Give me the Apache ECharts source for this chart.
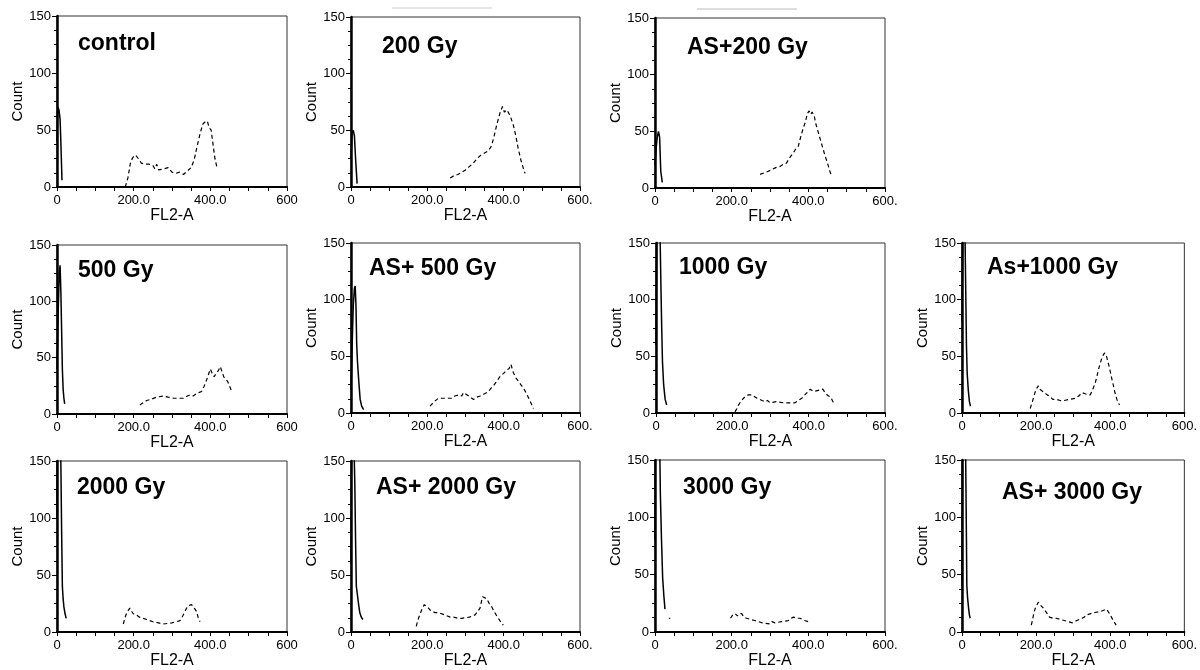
<!DOCTYPE html>
<html>
<head>
    <meta charset="utf-8">
    <title>FL2-A histograms</title>
    <script src="https://cdn.jsdelivr.net/npm/echarts@6/dist/echarts.min.js"></script>
    <style>
        html, body { margin: 0; padding: 0; background: #fff; }
        #chart { width: 1200px; height: 670px; }
    </style>
</head>
<body>
<div id="chart"></div>
<script type="text/javascript">
    // panel names
    var panelNames = ['control', '200 Gy', 'AS+200 Gy', '500 Gy', 'AS+ 500 Gy', '1000 Gy', 'As+1000 Gy',
        '2000 Gy', 'AS+ 2000 Gy', '3000 Gy', 'AS+ 3000 Gy'];

    // axis ticks
    var xTicks = [0, 200, 400, 600];
    var xTickText = ['0', '200.0', '400.0', '600.'];
    var xTickTextFirstCol = ['0', '200.0', '400.0', '600'];
    var yTicks = [0, 50, 100, 150];

    // solid peak near zero, [FL2-A, count]
    var controlPeak = [[0,40],[2,70],[5,68],[8,60],[10,40],[13,6]];
    var gy200Peak = [[0,25],[3,48],[6,50],[9,45],[12,25],[16,3]];
    var as200Peak = [[0,20],[3,35],[6,45],[9,50],[12,45],[15,15],[19,5]];
    var gy500Peak = [[0,40],[3,90],[6,125],[8,132],[10,110],[12,75],[14,40],[16,22],[18,14],[20,9]];
    var as500Peak = [[0,20],[3,60],[6,95],[9,110],[11,112],[13,95],[15,60],[17,45],[19,35],[21,25],[24,12],[28,6],[33,3]];
    var gy1000Peak = [[0,60],[3,200],[6,300],[9,200],[11,150],[13,110],[15,75],[17,45],[20,25],[24,12],[28,7]];
    var as1000Peak = [[0,80],[3,200],[6,250],[8,160],[10,110],[12,60],[14,35],[17,20],[20,10],[23,6]];
    var gy2000Peak = [[0,100],[2,300],[5,350],[8,200],[10,150],[12,90],[14,40],[16,29],[18,22],[21,16],[24,12]];
    var as2000Peak = [[0,60],[2,200],[5,300],[8,160],[10,130],[12,80],[14,40],[17,32],[20,24],[23,17],[27,13],[31,11]];
    var gy3000Peak = [[0,80],[2,250],[5,350],[9,250],[12,170],[14,120],[17,80],[20,47],[23,32],[26,20]];
    var as3000Peak = [[0,40],[2,200],[5,300],[8,200],[10,150],[12,80],[13,41],[15,30],[18,20],[20,15],[22,12]];

    // dashed cell cycle part
    var controlCycle = [[178,0],[185,8],[192,22],[198,26],[205,28],[212,25],[220,21],[230,20],[240,20],[250,19],[255,16],[260,20],[265,15],[280,16],[290,17],[300,13],[310,12],[320,13],[330,11],[340,14],[350,17],[358,24],[365,35],[372,45],[380,55],[386,57],[392,58],[397,52],[402,50],[408,35],[412,25],[418,16]];
    var gy200Cycle = [[260,8],[270,10],[280,11],[290,13],[300,15],[310,18],[320,21],[330,25],[340,28],[350,30],[360,32],[368,36],[375,45],[382,55],[390,65],[397,71],[402,66],[407,68],[412,66],[418,62],[425,55],[432,45],[438,34],[445,24],[452,16],[456,12]];
    var as200Cycle = [[274,12],[290,14],[304,16],[315,18],[326,19],[335,21],[343,22],[352,27],[361,31],[368,35],[374,37],[380,45],[386,52],[392,58],[398,66],[402,68],[406,65],[410,67],[415,64],[420,56],[426,49],[432,42],[438,35],[444,28],[450,22],[456,15],[461,10]];
    var gy500Cycle = [[216,8],[225,10],[234,12],[245,13],[260,15],[277,16],[290,15],[305,14],[320,14],[330,14],[340,16],[347,17],[355,16],[364,18],[370,19],[377,20],[383,24],[390,30],[396,36],[400,40],[405,36],[410,33],[415,36],[420,38],[426,42],[430,38],[435,33],[440,31],[445,29],[450,25],[456,20]];
    var as500Cycle = [[207,6],[218,10],[229,13],[245,13],[264,13],[272,15],[282,16],[290,15],[295,18],[308,15],[321,12],[330,14],[338,15],[350,17],[360,19],[367,22],[373,24],[382,28],[390,32],[400,35],[408,38],[414,39],[419,43],[425,36],[432,31],[439,28],[445,25],[452,22],[460,17],[470,10],[478,4]];
    var gy1000Cycle = [[207,1],[212,4],[216,7],[222,10],[229,13],[236,15],[242,16],[251,16],[265,13],[278,11],[286,10],[292,11],[299,9],[315,10],[334,9],[350,9],[364,9],[373,11],[382,13],[390,16],[399,19],[404,21],[408,20],[413,19],[417,18],[425,20],[437,21],[445,17],[452,15],[458,14],[465,9]];
    var as1000Cycle = [[184,4],[190,10],[197,18],[202,22],[206,24],[210,21],[215,22],[222,18],[230,16],[236,15],[245,12],[255,12],[265,11],[276,11],[290,12],[306,13],[315,15],[324,18],[332,17],[340,16],[346,16],[352,20],[359,26],[364,32],[368,38],[373,44],[377,48],[381,51],[385,53],[390,50],[394,45],[398,40],[403,32],[408,25],[412,19],[418,12],[425,7]];
    var gy2000Cycle = [[173,7],[177,12],[181,16],[186,19],[190,21],[195,18],[199,16],[203,15],[207,15],[215,13],[225,12],[234,11],[250,9],[265,8],[277,7],[300,8],[321,10],[328,14],[334,18],[338,21],[342,23],[346,24],[351,24],[356,22],[360,20],[364,18],[368,13],[373,9]];
    var as2000Cycle = [[171,5],[175,10],[180,15],[186,20],[192,24],[197,23],[203,21],[208,19],[212,18],[220,17],[229,17],[245,15],[260,13],[269,13],[280,12],[290,12],[310,13],[325,15],[332,18],[338,21],[342,27],[345,31],[350,30],[356,29],[362,25],[369,22],[375,18],[382,14],[390,10],[399,6]];
    var gy3000Cycle = [[36,12],[40,12],null,[197,12],[203,15],[209,16],[215,14],[220,16],[226,16],[232,13],[239,12],[260,10],[280,8],[300,7],[305,9],[309,9],[313,8],[317,7],[330,9],[348,10],[355,12],[361,13],[370,12],[378,12],[390,10],[400,9]];
    var as3000Cycle = [[187,6],[190,10],[193,15],[197,20],[201,23],[206,26],[210,24],[215,23],[219,21],[223,20],[230,16],[236,13],[245,12],[254,12],[265,11],[276,10],[287,9],[298,8],[310,10],[324,12],[330,13],[337,15],[348,16],[359,17],[375,18],[390,20],[400,15],[408,10],[416,6]];

    var peaks = [controlPeak, gy200Peak, as200Peak, gy500Peak, as500Peak, gy1000Peak, as1000Peak,
        gy2000Peak, as2000Peak, gy3000Peak, as3000Peak];
    var cycles = [controlCycle, gy200Cycle, as200Cycle, gy500Cycle, as500Cycle, gy1000Cycle, as1000Cycle,
        gy2000Cycle, as2000Cycle, gy3000Cycle, as3000Cycle];

    // plot boxes [left, top, right, bottom] and title spots [x, centerY]
    var boxes = [
        [57,16,287,187], [351,17,580,187], [655,18,885,188],
        [57,245,287,414], [351,243,580,413], [656,243,885,413], [962,243,1190,413],
        [57,461,287,632], [351,461,580,632], [655,460,885,632], [962,460,1190,632]
    ];
    var titleSpots = [[78,43],[382,46],[687,47],[78,270],[369,268],[679,267],[987,267],
        [77,487],[376,487],[683,487],[1002,492]];

    var myChart = echarts.init(document.getElementById('chart'));

    var grid = [], xAxis = [], yAxis = [], series = [], title = [];
    for (var i = 0; i < panelNames.length; i++) {
        var b = boxes[i];
        var firstCol = b[0] < 100;
        grid.push({
            left: b[0], top: b[1], width: b[2] - b[0], height: b[3] - b[1],
            show: true, borderColor: '#333', borderWidth: 1, backgroundColor: '#fff'
        });
        (function (labels) {
            xAxis.push({
                gridIndex: i, type: 'value', min: 0, max: 600, interval: 200,
                name: 'FL2-A', nameLocation: 'middle', nameGap: 19,
                nameTextStyle: { fontFamily: 'Liberation Sans, Arial', fontSize: 16, color: '#000' },
                axisLine: { show: true, onZero: false, lineStyle: { color: '#000', width: 2 } },
                axisTick: { show: true, length: 4, lineStyle: { color: '#000' } },
                minorTick: { show: true, splitNumber: 4, length: 4, lineStyle: { color: '#000' } },
                splitLine: { show: false },
                axisLabel: {
                    margin: 7, fontFamily: 'Liberation Sans, Arial', fontSize: 13, color: '#000',
                    formatter: function (v) { return labels[xTicks.indexOf(v)]; }
                }
            });
        })(firstCol ? xTickTextFirstCol : xTickText);
        yAxis.push({
            gridIndex: i, type: 'value', min: yTicks[0], max: yTicks[yTicks.length - 1], interval: 50,
            name: 'Count', nameLocation: 'middle', nameGap: 31,
            nameTextStyle: { fontFamily: 'Liberation Sans, Arial', fontSize: 15, color: '#000' },
            axisLine: { show: true, onZero: false, lineStyle: { color: '#000', width: 2.5 } },
            axisTick: { show: true, length: 5, lineStyle: { color: '#000' } },
            minorTick: { show: true, splitNumber: 4, length: 3, lineStyle: { color: '#000' } },
            splitLine: { show: false },
            axisLabel: { margin: 6, fontFamily: 'Liberation Sans, Arial', fontSize: 13, color: '#000' }
        });
        title.push({
            text: panelNames[i], left: titleSpots[i][0], top: titleSpots[i][1] - 11, padding: 0,
            textStyle: { fontFamily: 'Liberation Sans, Arial', fontSize: 23, fontWeight: 'bold', color: '#000' }
        });
        series.push({
            type: 'line', xAxisIndex: i, yAxisIndex: i, data: peaks[i],
            symbol: 'none', clip: true, animation: false,
            lineStyle: { color: '#000', width: 1.5 }
        });
        series.push({
            type: 'line', xAxisIndex: i, yAxisIndex: i, data: cycles[i],
            symbol: 'none', clip: true, animation: false, connectNulls: false,
            lineStyle: { color: '#000', width: 1.2, type: [4, 3] }
        });
    }

    myChart.setOption({
        animation: false,
        title: title,
        grid: grid,
        xAxis: xAxis,
        yAxis: yAxis,
        series: series,
        graphic: [
            { type: 'line', shape: { x1: 392, y1: 8, x2: 492, y2: 8 }, style: { stroke: '#ccc', lineWidth: 1 } },
            { type: 'line', shape: { x1: 697, y1: 9, x2: 797, y2: 9 }, style: { stroke: '#bbb', lineWidth: 1 } }
        ]
    });
</script>
</body>
</html>
